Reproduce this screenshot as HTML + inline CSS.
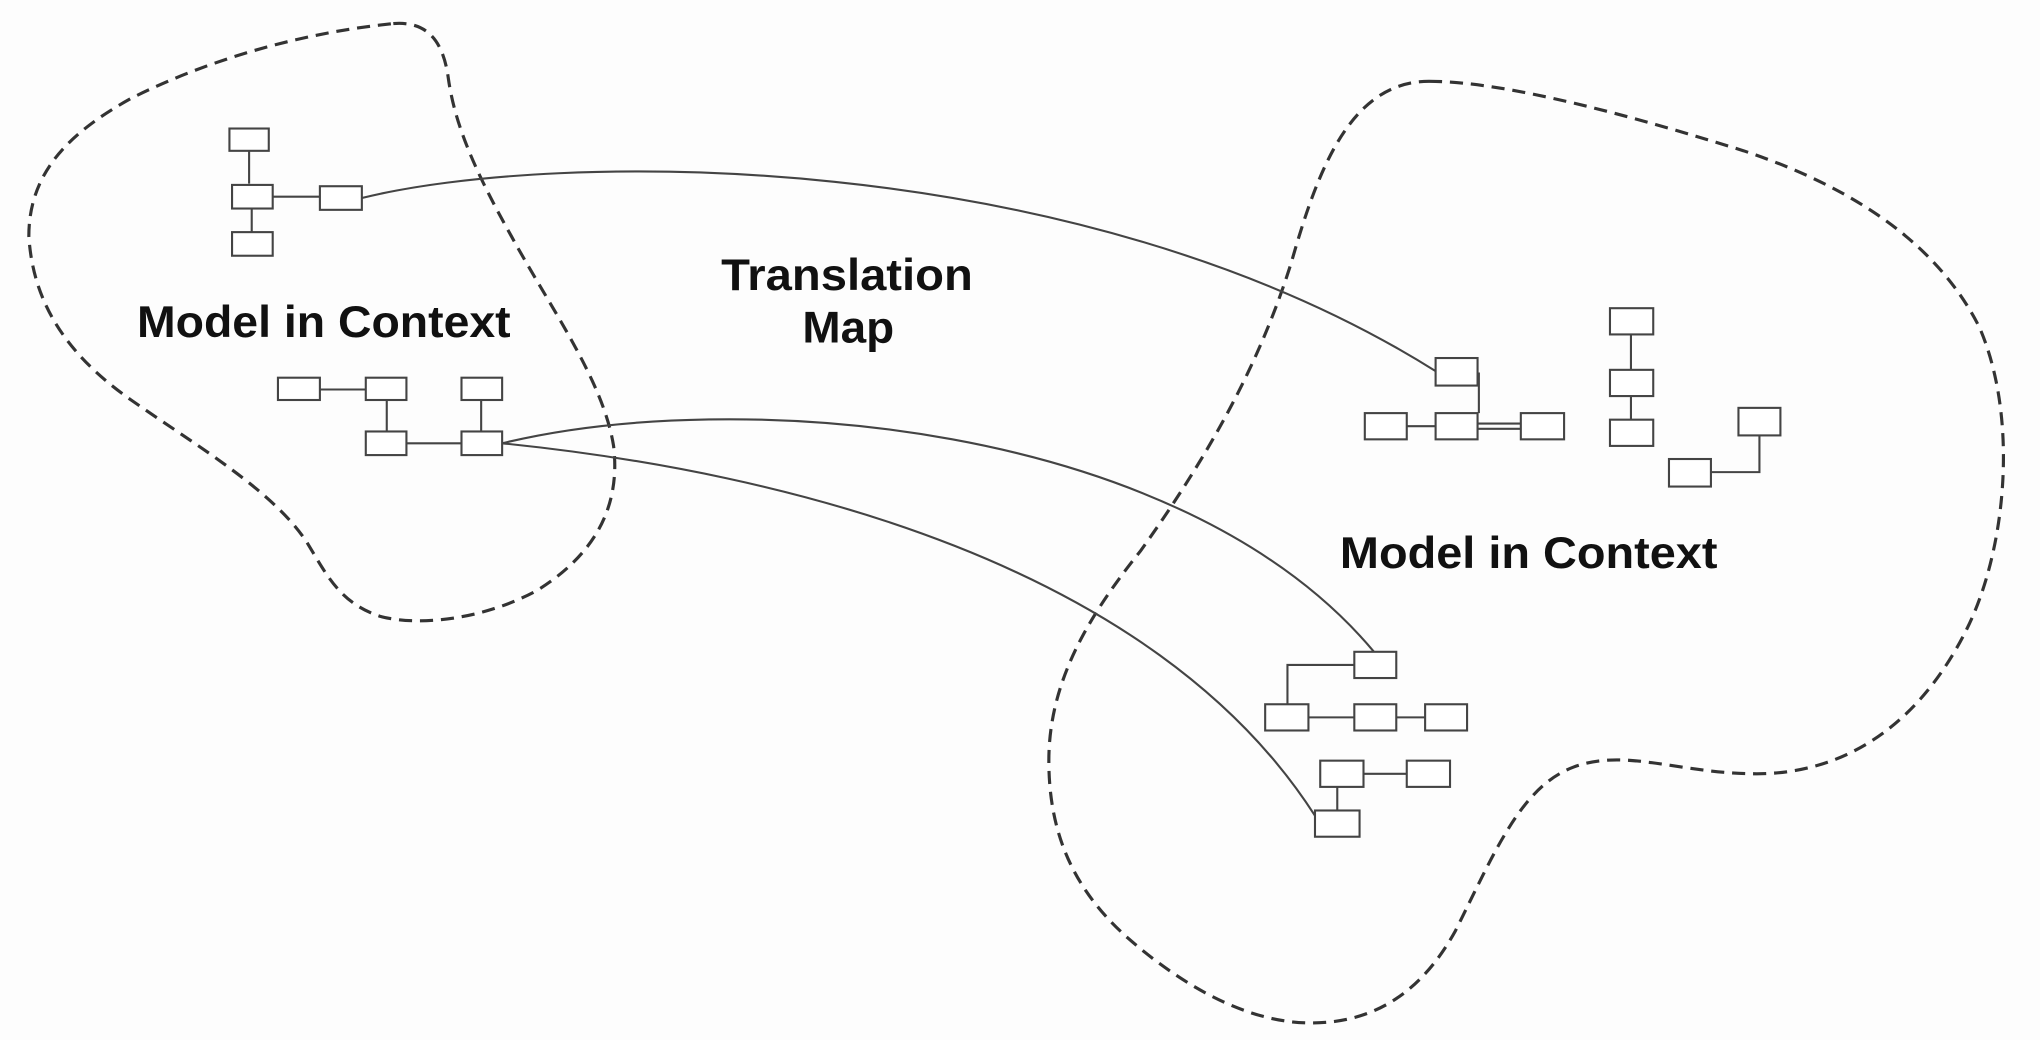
<!DOCTYPE html>
<html><head><style>
html,body{margin:0;padding:0;background:#fdfdfd;}
svg{display:block;}
text{font-family:"Liberation Sans",Arial,sans-serif;font-weight:bold;fill:#111;}
</style></head><body>
<svg width="2040" height="1040" viewBox="0 0 1556 793" preserveAspectRatio="none" xmlns="http://www.w3.org/2000/svg">
<rect width="1556" height="793" fill="#fdfdfd"/>
<g fill="none" stroke="#333" stroke-width="2.4" stroke-dasharray="10 6">
<path d="M300,18 C325,16 338,30 342,60 C347,95 362,130 390,180 C420,235 460,290 468,340 C474,390 450,425 410,450 C370,472 320,478 290,470 C260,460 250,440 235,415 C210,375 150,340 100,305 C50,270 25,230 22,180 C22,130 55,100 100,75 C160,45 230,25 300,18 Z"/>
<path d="M1090,62 C1150,62 1250,90 1330,115 C1420,145 1480,190 1510,250 C1540,320 1530,420 1500,480 C1460,560 1400,590 1340,590 C1280,590 1240,570 1200,585 C1160,600 1140,650 1110,710 C1085,755 1050,780 1000,780 C950,780 900,750 860,715 C815,675 800,630 800,580 C800,520 830,470 870,420 C920,350 960,280 985,200 C1005,130 1030,62 1090,62 Z"/>
</g>
<g fill="none" stroke="#444" stroke-width="1.6">
<path d="M276,151 C420,115 820,110 1095,283"/>
<path d="M383,338 C560,295 900,320 1048,497"/>
<path d="M383,338 C600,360 880,430 1003,622"/>
</g>
<g fill="#fff" stroke="#444" stroke-width="1.6">
<path d="M190,115 V140 M208,150 H244 M192,158 V177" fill="none"/>
<rect x="175" y="98" width="30" height="17"/>
<rect x="177" y="141" width="31" height="18"/>
<rect x="244" y="142" width="32" height="18"/>
<rect x="177" y="177" width="31" height="18"/>
<path d="M244,297 H279 M295,305 V329 M367,305 V329 M310,338 H352" fill="none"/>
<rect x="212" y="288" width="32" height="17"/>
<rect x="279" y="288" width="31" height="17"/>
<rect x="352" y="288" width="31" height="17"/>
<rect x="279" y="329" width="31" height="18"/>
<rect x="352" y="329" width="31" height="18"/>

<path d="M1073,325 H1095 M1127,323 H1160 M1127,327 H1160 M1128,284 V315 M1244,255 V282 M1244,302 V320 M1305,360 H1342 V332" fill="none"/>
<rect x="1095" y="273" width="32" height="21"/>
<rect x="1041" y="315" width="32" height="20"/>
<rect x="1095" y="315" width="32" height="20"/>
<rect x="1160" y="315" width="33" height="20"/>
<rect x="1228" y="235" width="33" height="20"/>
<rect x="1228" y="282" width="33" height="20"/>
<rect x="1228" y="320" width="33" height="20"/>
<rect x="1326" y="311" width="32" height="21"/>
<rect x="1273" y="350" width="32" height="21"/>

<path d="M1033,507 H982 V537 M998,547 H1033 M1065,547 H1087 M1040,590 H1073 M1020,600 V618" fill="none"/>
<rect x="1033" y="497" width="32" height="20"/>
<rect x="965" y="537" width="33" height="20"/>
<rect x="1033" y="537" width="32" height="20"/>
<rect x="1087" y="537" width="32" height="20"/>
<rect x="1007" y="580" width="33" height="20"/>
<rect x="1073" y="580" width="33" height="20"/>
<rect x="1003" y="618" width="34" height="20"/>
</g>
<text x="247" y="257" font-size="34" text-anchor="middle" textLength="285" lengthAdjust="spacingAndGlyphs">Model in Context</text>
<text x="646" y="221" font-size="34" text-anchor="middle" textLength="192" lengthAdjust="spacingAndGlyphs">Translation</text>
<text x="647" y="261" font-size="34" text-anchor="middle" textLength="70" lengthAdjust="spacingAndGlyphs">Map</text>
<text x="1166" y="433" font-size="34" text-anchor="middle" textLength="288" lengthAdjust="spacingAndGlyphs">Model in Context</text>
</svg>
</body></html>
